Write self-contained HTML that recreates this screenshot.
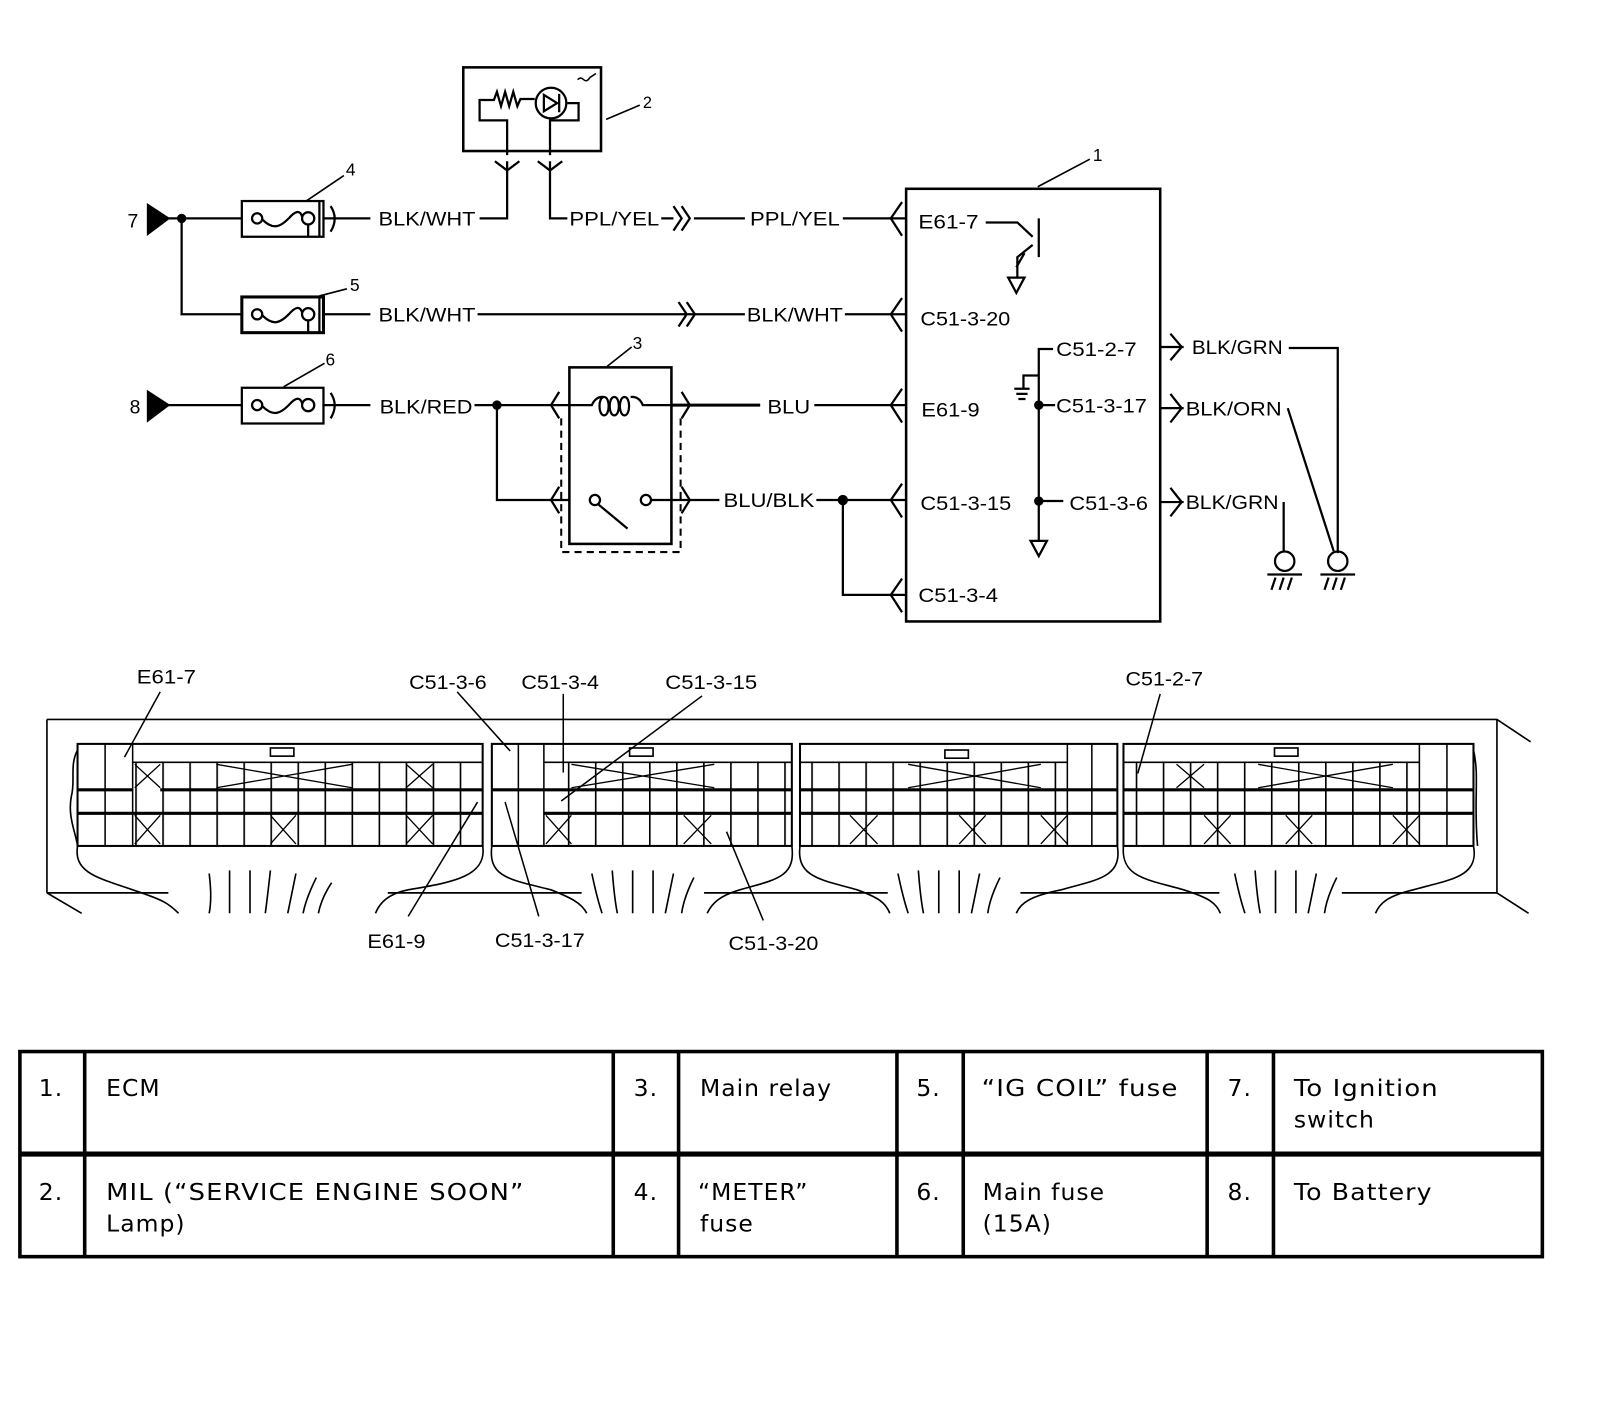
<!DOCTYPE html>
<html><head><meta charset="utf-8"><style>
html,body{margin:0;padding:0;background:#fff;}
svg{display:block;}
.t{font-family:"Liberation Sans",Arial,sans-serif;font-size:19px;fill:#000;}
.tb{font-family:"DejaVu Sans","Liberation Sans",sans-serif;font-size:23px;fill:#000;letter-spacing:1px;}
</style></head><body>
<svg width="1600" height="1428" viewBox="0 0 1568 1399.4" xmlns="http://www.w3.org/2000/svg">
<defs>
<pattern id="vl" width="26.5" height="10" patternUnits="userSpaceOnUse"><rect x="0" y="0" width="1.6" height="10" fill="#000"/></pattern>
</defs>
<g fill="none" stroke="#000" stroke-width="2.2" stroke-linejoin="miter">
<!-- terminal 7 -->
<path d="M145,201 L165,214 L145,229 Z" fill="#000"/>
<path d="M165,214 H237 M178,214 V308 H237"/>
<circle cx="178" cy="214" r="3.5" fill="#000"/>
<!-- terminal 8 -->
<path d="M145,384 L165,397 L145,412 Z" fill="#000"/>
<path d="M165,397 H237"/>
<!-- fuses -->
<g id="f">
<rect x="237" y="197" width="80" height="35"/>
<circle cx="252" cy="214" r="5"/>
<path d="M257,215 C268,226 275,222 283,214 C290,206 294,206 296,212"/>
<circle cx="302" cy="214" r="6"/>
<path d="M302,220 V232 M313,197 V232"/>
<path d="M324,202 Q332,214 324,227"/>
<path d="M317,214 H363"/>
</g>
<g transform="translate(0,94)">
<rect x="237" y="197" width="80" height="35" stroke-width="3"/>
<circle cx="252" cy="214" r="5"/>
<path d="M257,215 C268,226 275,222 283,214 C290,206 294,206 296,212"/>
<circle cx="302" cy="214" r="6"/>
<path d="M302,220 V232 M313,197 V232"/>
<path d="M317,214 H363"/>
</g>
<g transform="translate(0,183)">
<rect x="237" y="197" width="80" height="35"/>
<circle cx="252" cy="214" r="5"/>
<path d="M257,215 C268,226 275,222 283,214 C290,206 294,206 296,212"/>
<circle cx="302" cy="214" r="6"/>
<path d="M324,202 Q332,214 324,227"/>
<path d="M317,214 H363"/>
</g>
<!-- leaders -->
<path d="M300,197 L337,172 M313,290 L340,283 M278,379 L318,356 M594,117 L627,103 M595,359 L619,340 M1017,183 L1068,156" stroke-width="1.6"/>
<!-- MIL -->
<rect x="454" y="66" width="135" height="82" stroke-width="2.5"/>
<path d="M497,152 V118 H470 V98 H484 L487,90 L491,104 L495,90 L499,104 L503,90 L507,104 L510,97 H524"/>
<circle cx="540" cy="101" r="15"/>
<path d="M533,93 V109 L546,101 Z M548,92 V110"/>
<path d="M556,101 H567 V118 H539 V152"/>
<path d="M566,78 q3,-3 6,0 q3,3 6,-2 M578,76 l6,-4" stroke-width="1.5"/>
<path d="M485,158 L497,167 L509,158 M527,158 L539,167 L551,158"/>
<path d="M497,158 V214 H470 M539,158 V214 H556"/>
<path d="M648,214 H660 M680,214 H730 M660,202 L668,214 L660,226 M668,202 L676,214 L668,226" />
<path d="M826,214 H888 M884,198 L873,214 L884,231"/>
<!-- row 2 -->
<path d="M468,308 H730 M665,296 L673,308 L665,320 M673,296 L681,308 L673,320"/>
<path d="M828,308 H888 M884,292 L873,308 L884,325"/>
<!-- row 3 -->
<path d="M465,397 H558 M487,397 V490 H558"/>
<circle cx="487" cy="397" r="3.5" fill="#000"/>
<path d="M548,384 L540,397 L548,410 M548,477 L540,490 L548,503"/>
<rect x="558" y="360" width="100" height="173" stroke-width="2.5"/>
<path d="M558,397 H580 Q584,388 592,389 M592,389 c-6,0 -6,18 0,18 c6,0 6,-18 0,-18 M602,389 c-6,0 -6,18 0,18 c6,0 6,-18 0,-18 M612,389 c-6,0 -6,18 0,18 c6,0 6,-18 0,-18 M618,389 Q626,388 630,397 H658"/>
<path d="M658,397 H745" stroke-width="3"/>
<path d="M668,384 L676,397 L668,410 M668,477 L676,490 L668,503"/>
<circle cx="583" cy="490" r="5"/>
<path d="M586,494 L615,518"/>
<circle cx="633" cy="490" r="5"/>
<path d="M638,490 H705"/>
<path d="M550,410 V541 H667 V410" stroke-dasharray="7,5" stroke-width="2"/>
<path d="M798,397 H888 M884,381 L873,397 L884,414"/>
<path d="M800,490 H888 M826,490 V583 H888 M884,474 L873,490 L884,507 M884,567 L873,583 L884,600"/>
<circle cx="826" cy="490" r="4" fill="#000"/>
<!-- ECM -->
<rect x="888" y="185" width="249" height="424" stroke-width="2.5"/>
<path d="M966,218 H997 L1012,232 M1018,214 V252 M1012,240 L997,252 V272 M996,262 L1004,248"/>
<path d="M988,272 L1004,272 L996,287 Z"/>
<path d="M1032,342 H1018 V530 M1010,530 L1026,530 L1018,545 Z M1018,368 H1003 V381 M994,381 H1009 M996,386 H1007 M998,391 H1005 M1018,397 H1034 M1018,491 H1042"/>
<circle cx="1018" cy="397" r="3.5" fill="#000"/>
<circle cx="1018" cy="491" r="3.5" fill="#000"/>
<path d="M1137,340 H1160 M1147,327 L1158,340 L1147,353 M1137,400 H1160 M1147,386 L1158,400 L1147,414 M1137,492 H1160 M1147,478 L1158,492 L1147,506"/>
<path d="M1263,341 H1311 V542 M1262,400 L1307,540 M1258,492 V541"/>
<circle cx="1259" cy="550" r="9.5"/><circle cx="1311" cy="550" r="9.5"/>
<path d="M1242,563 H1276 M1246,578 L1250,566 M1254,578 L1258,566 M1262,578 L1266,566 M1294,563 H1328 M1298,578 L1302,566 M1306,578 L1310,566 M1314,578 L1318,566"/>
</g>
<g class="t">
<text x="125" y="223">7</text><text x="127" y="405">8</text>
<text x="339" y="172" font-size="17">4</text><text x="343" y="285" font-size="17">5</text><text x="319" y="358" font-size="17">6</text>
<text x="630" y="106" font-size="16">2</text><text x="620" y="342" font-size="17">3</text><text x="1071" y="158" font-size="17">1</text>
<text x="371" y="221" textLength="95" lengthAdjust="spacingAndGlyphs">BLK/WHT</text>
<text x="558" y="221" textLength="88" lengthAdjust="spacingAndGlyphs">PPL/YEL</text>
<text x="735" y="221" textLength="88" lengthAdjust="spacingAndGlyphs">PPL/YEL</text>
<text x="371" y="315" textLength="95" lengthAdjust="spacingAndGlyphs">BLK/WHT</text>
<text x="732" y="315" textLength="94" lengthAdjust="spacingAndGlyphs">BLK/WHT</text>
<text x="372" y="405" textLength="91" lengthAdjust="spacingAndGlyphs">BLK/RED</text>
<text x="752" y="405" textLength="42" lengthAdjust="spacingAndGlyphs">BLU</text>
<text x="709" y="497" textLength="89" lengthAdjust="spacingAndGlyphs">BLU/BLK</text>
<text x="900" y="224" textLength="59" lengthAdjust="spacingAndGlyphs">E61-7</text>
<text x="902" y="319" textLength="88" lengthAdjust="spacingAndGlyphs">C51-3-20</text>
<text x="903" y="408" textLength="57" lengthAdjust="spacingAndGlyphs">E61-9</text>
<text x="902" y="500" textLength="89" lengthAdjust="spacingAndGlyphs">C51-3-15</text>
<text x="900" y="590" textLength="78" lengthAdjust="spacingAndGlyphs">C51-3-4</text>
<text x="1035" y="349" textLength="79" lengthAdjust="spacingAndGlyphs">C51-2-7</text>
<text x="1035" y="404" textLength="89" lengthAdjust="spacingAndGlyphs">C51-3-17</text>
<text x="1048" y="500" textLength="77" lengthAdjust="spacingAndGlyphs">C51-3-6</text>
<text x="1168" y="347" textLength="89" lengthAdjust="spacingAndGlyphs">BLK/GRN</text>
<text x="1162" y="407" textLength="94" lengthAdjust="spacingAndGlyphs">BLK/ORN</text>
<text x="1162" y="499" textLength="91" lengthAdjust="spacingAndGlyphs">BLK/GRN</text>
</g>
<!-- connector drawing -->
<g fill="none" stroke="#000" stroke-width="1.6">
<path d="M46,705 H1467 L1500,727 M46,705 V875 M1467,705 V875 L1498,895 M46,875 L80,895" />
<path d="M46,875 H165 M380,875 H570 M690,875 H870 M1000,875 H1195 M1315,875 H1467"/>
<!-- block outlines and flares -->
<path d="M76,829 C72,855 95,860 130,872 C160,882 165,885 175,895 M473,829 C478,860 440,865 400,872 C380,876 372,885 368,895"/>
<path d="M482,829 C478,860 500,862 540,872 C560,880 570,885 575,895 M776,829 C780,860 760,862 725,872 C705,878 698,885 693,895"/>
<path d="M784,829 C780,860 805,862 840,872 C862,880 868,885 872,895 M1095,829 C1100,860 1075,862 1040,872 C1010,878 1000,885 996,895"/>
<path d="M1101,829 C1098,860 1125,862 1160,872 C1185,880 1192,885 1196,895 M1444,829 C1450,860 1420,862 1385,872 C1360,878 1352,885 1348,895"/>
<path d="M76,735 C68,750 74,765 70,780 C66,800 74,815 76,829 M1444,735 C1450,760 1444,785 1448,829"/>
<path d="M205,856 Q208,880 205,895 M225,853 V895 M245,853 V895 M265,853 Q262,880 260,895 M290,856 Q285,880 282,895 M310,860 Q300,880 297,895 M325,865 Q315,880 312,895"/>
<path d="M580,856 Q585,880 590,895 M600,853 Q602,880 605,895 M620,853 V895 M640,853 V895 M660,856 Q655,880 652,895 M680,860 Q670,880 668,895"/>
<path d="M880,856 Q885,880 890,895 M900,853 Q902,880 905,895 M920,853 V895 M940,853 V895 M960,856 Q955,880 952,895 M980,860 Q970,880 968,895"/>
<path d="M1210,856 Q1215,880 1220,895 M1230,853 Q1232,880 1235,895 M1250,853 V895 M1270,853 V895 M1290,856 Q1285,880 1282,895 M1310,860 Q1300,880 1298,895"/>
</g>
<!-- blocks -->
<g stroke="#000" fill="none">
<rect x="130" y="747" width="343" height="82" fill="url(#vl)" stroke="none"/>
<rect x="533" y="747" width="243" height="82" fill="url(#vl)" stroke="none"/>
<rect x="784" y="747" width="262" height="82" fill="url(#vl)" stroke="none"/>
<rect x="1101" y="747" width="290" height="82" fill="url(#vl)" stroke="none"/>
<rect x="76" y="729" width="397" height="100" stroke-width="2"/>
<rect x="482" y="729" width="294" height="100" stroke-width="2"/>
<rect x="784" y="729" width="311" height="100" stroke-width="2"/>
<rect x="1101" y="729" width="343" height="100" stroke-width="2"/>
<path stroke-width="1.5" d="M76,729 V829 M103,729 V829 M130,729 V829 M482,729 V829 M508,729 V829 M533,729 V829 M1046,729 V829 M1070,729 V829 M1391,729 V829 M1418,729 V829"/>
<path stroke-width="1.6" d="M130,747 H473 M533,747 H776 M784,747 H1046 M1101,747 H1391"/>
<path stroke-width="3" d="M76,774 H130 M76,797 H130 M157,774 H473 M130,797 H473 M482,774 H533 M533,774 H776 M533,797 H776 M784,774 H1046 M784,797 H1046 M1046,774 H1095 M1046,797 H1095 M1101,774 H1391 M1101,797 H1391 M1391,774 H1444 M1391,797 H1444"/>
<rect x="265" y="733" width="23" height="8" stroke-width="1.6"/>
<rect x="617" y="733" width="23" height="8" stroke-width="1.6"/>
<rect x="926" y="735" width="23" height="8" stroke-width="1.6"/>
<rect x="1249" y="733" width="23" height="8" stroke-width="1.6"/>
<path stroke-width="1.3" d="M132,749 L157,772 M157,749 L132,772 M398,749 L424,772 M424,749 L398,772 M212,749 L345,772 M345,749 L212,772 M132,799 L157,827 M157,799 L132,827 M265,799 L290,827 M290,799 L265,827 M398,799 L424,827 M424,799 L398,827
M560,749 L700,772 M700,749 L560,772 M535,799 L560,827 M560,799 L535,827 M670,799 L697,827 M697,799 L670,827
M890,749 L1020,772 M1020,749 L890,772 M833,799 L860,827 M860,799 L833,827 M940,799 L966,827 M966,799 L940,827 M1020,799 L1046,827 M1046,799 L1020,827
M1153,749 L1180,772 M1180,749 L1153,772 M1233,749 L1365,772 M1365,749 L1233,772 M1180,799 L1206,827 M1206,799 L1180,827 M1260,799 L1286,827 M1286,799 L1260,827 M1365,799 L1391,827 M1391,799 L1365,827"/>
<!-- label leaders -->
<path stroke-width="1.5" d="M157,678 L122,742 M448,678 L500,736 M552,680 V757 M688,682 L550,785 M1137,680 L1115,758 M400,898 L468,786 M528,898 L495,786 M748,902 L712,815"/>
</g>
<g class="t" font-size="18">
<text x="134" y="670" textLength="58" lengthAdjust="spacingAndGlyphs">E61-7</text>
<text x="401" y="675" textLength="76" lengthAdjust="spacingAndGlyphs">C51-3-6</text>
<text x="511" y="675" textLength="76" lengthAdjust="spacingAndGlyphs">C51-3-4</text>
<text x="652" y="675" textLength="90" lengthAdjust="spacingAndGlyphs">C51-3-15</text>
<text x="1103" y="672" textLength="76" lengthAdjust="spacingAndGlyphs">C51-2-7</text>
<text x="360" y="929" textLength="57" lengthAdjust="spacingAndGlyphs">E61-9</text>
<text x="485" y="928" textLength="88" lengthAdjust="spacingAndGlyphs">C51-3-17</text>
<text x="714" y="931" textLength="88" lengthAdjust="spacingAndGlyphs">C51-3-20</text>
</g>
<!-- table -->
<g fill="none" stroke="#000">
<rect x="19.5" y="1030.5" width="1492" height="201" stroke-width="3.5"/>
<path stroke-width="5" d="M19,1131 H1512"/>
<path stroke-width="3.5" d="M83,1029 V1232 M601,1029 V1232 M665,1029 V1232 M879,1029 V1232 M944,1029 V1232 M1183,1029 V1232 M1248,1029 V1232"/>
</g>
<g class="tb">
<text x="38" y="1074">1.</text><text x="104" y="1074">ECM</text>
<text x="621" y="1074">3.</text><text x="686" y="1074">Main relay</text>
<text x="898" y="1074">5.</text><text x="962" y="1074" textLength="193" lengthAdjust="spacingAndGlyphs">“IG COIL” fuse</text>
<text x="1203" y="1074">7.</text><text x="1268" y="1074" textLength="142" lengthAdjust="spacingAndGlyphs">To Ignition</text><text x="1268" y="1105">switch</text>
<text x="38" y="1176">2.</text><text x="104" y="1176" textLength="410" lengthAdjust="spacingAndGlyphs">MIL (“SERVICE ENGINE SOON”</text><text x="104" y="1207">Lamp)</text>
<text x="621" y="1176">4.</text><text x="684" y="1176">“METER”</text><text x="686" y="1207">fuse</text>
<text x="898" y="1176">6.</text><text x="963" y="1176">Main fuse</text><text x="963" y="1207">(15A)</text>
<text x="1203" y="1176">8.</text><text x="1268" y="1176" textLength="136" lengthAdjust="spacingAndGlyphs">To Battery</text>
</g>
</svg>
</body></html>
